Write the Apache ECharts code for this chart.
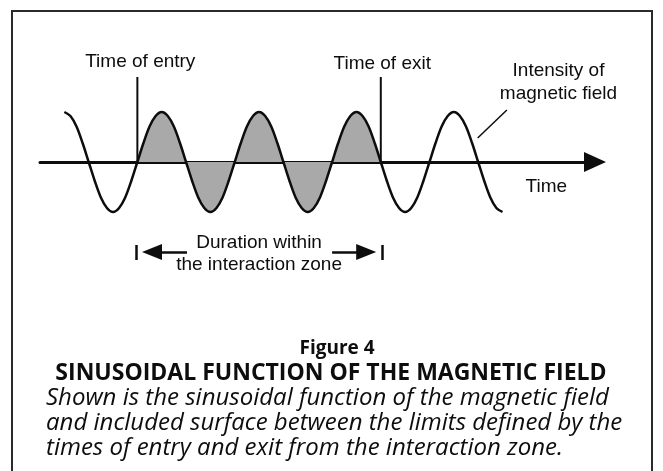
<!DOCTYPE html>
<html>
<head>
<meta charset="utf-8">
<title>Sinusoidal function of the magnetic field</title>
<script src="https://cdn.jsdelivr.net/npm/echarts@6/dist/echarts.min.js"></script>
<style>
  html, body { margin: 0; padding: 0; background: #ffffff; }
  #chart { width: 663px; height: 471px; }
</style>
</head>
<body>
<div id="chart"></div>
<script>
// Field intensity sampled along time (one unit = half a period)
const sampleTimes = [
  -0.5, -0.375, -0.25, -0.125, 0, 0.125, 0.25, 0.375,
  0.5, 0.625, 0.75, 0.875, 1, 1.125, 1.25, 1.375,
  1.5, 1.625, 1.75, 1.875, 2, 2.125, 2.25, 2.375,
  2.5, 2.625, 2.75, 2.875, 3, 3.125, 3.25, 3.375,
  3.5, 3.625, 3.75, 3.875, 4, 4.125, 4.25, 4.375,
  4.5, 4.625, 4.75, 4.875, 5, 5.125, 5.25, 5.375,
  5.5, 5.625, 5.75, 5.875, 6, 6.125, 6.25, 6.375,
  6.5, 6.625, 6.75, 6.875, 7, 7.125, 7.25, 7.375,
  7.5, 7.625, 7.75, 7.875, 8, 8.125, 8.25, 8.375,
  8.5
];
const fieldValues = [
  1, 0.92, 0.71, 0.38, 0, -0.38, -0.71, -0.92,
  -1, -0.92, -0.71, -0.38, 0, 0.38, 0.71, 0.92,
  1, 0.92, 0.71, 0.38, 0, -0.38, -0.71, -0.92,
  -1, -0.92, -0.71, -0.38, 0, 0.38, 0.71, 0.92,
  1, 0.92, 0.71, 0.38, 0, -0.38, -0.71, -0.92,
  -1, -0.92, -0.71, -0.38, 0, 0.38, 0.71, 0.92,
  1, 0.92, 0.71, 0.38, 0, -0.38, -0.71, -0.92,
  -1, -0.92, -0.71, -0.38, 0, 0.38, 0.71, 0.92,
  1, 0.92, 0.71, 0.38, 0, -0.38, -0.71, -0.92,
  -1
];

// Limits of the interaction zone
const entryTime = 1;
const exitTime = 6;

// Annotation labels
const entryLabel = 'Time of entry';
const exitLabel = 'Time of exit';
const timeLabel = 'Time';
const fieldLabel = 'Intensity of\nmagnetic field';
const durationLabel = 'Duration within\nthe interaction zone';

// Caption
const figureNumber = 'Figure 4';
const figureTitle = 'SINUSOIDAL FUNCTION OF THE MAGNETIC FIELD';
const figureText = [
  'Shown is the sinusoidal function of the magnetic field',
  'and included surface between the limits defined by the',
  'times of entry and exit from the interaction zone.'
];

const curve = sampleTimes.map((t, i) => [t, fieldValues[i]]);
const zone = curve.filter(p => p[0] >= entryTime && p[0] <= exitTime);

const ink = '#0d0d0d';
const labelFont = { fontFamily: 'Liberation Sans', fontSize: 19, color: ink, opacity: 1 };
const markerTop = 1.7;
const durationY = -1.8;

const chart = echarts.init(document.getElementById('chart'), null, { renderer: 'canvas' });

function textPoint(x, y, text, extra) {
  return {
    value: [x, y],
    label: Object.assign({ show: true, position: 'inside', formatter: text }, labelFont, extra || {})
  };
}

const option = {
  backgroundColor: '#ffffff',
  animation: false,
  grid: { left: 40, right: 68, top: 42, bottom: 209, containLabel: false },
  xAxis: {
    type: 'value',
    min: -1,
    max: 10.4,
    axisLine: {
      show: true,
      onZero: true,
      symbol: ['none', 'triangle'],
      symbolSize: [20, 22],
      lineStyle: { color: ink, width: 3 }
    },
    axisTick: { show: false },
    axisLabel: { show: false },
    splitLine: { show: false }
  },
  yAxis: {
    type: 'value',
    min: -2,
    max: 2.4,
    axisLine: { show: false },
    axisTick: { show: false },
    axisLabel: { show: false },
    splitLine: { show: false }
  },
  series: [
    {
      // surface included between entry and exit
      type: 'line',
      data: zone,
      smooth: 0.3,
      showSymbol: false,
      lineStyle: { width: 0 },
      areaStyle: { color: '#a9a9a9', opacity: 1, origin: 0 },
      z: 1
    },
    {
      // magnetic field intensity
      type: 'line',
      data: curve,
      smooth: 0.3,
      showSymbol: false,
      lineStyle: { color: ink, width: 2.5 },
      z: 3
    },
    {
      type: 'line',
      data: [[entryTime, 0], [entryTime, markerTop]],
      symbol: 'none',
      lineStyle: { color: ink, width: 2 },
      z: 4
    },
    {
      type: 'line',
      data: [[exitTime, 0], [exitTime, markerTop]],
      symbol: 'none',
      lineStyle: { color: ink, width: 2 },
      z: 4
    },
    {
      // leader line to the curve
      type: 'line',
      data: [[7.99, 0.48], [8.59, 1.04]],
      symbol: 'none',
      lineStyle: { color: ink, width: 1.5 },
      z: 4
    },
    {
      type: 'scatter',
      symbolSize: 0,
      silent: true,
      itemStyle: { opacity: 1 },
      data: [
        textPoint(entryTime + 0.06, 2.0, entryLabel),
        textPoint(exitTime + 0.03, 1.96, exitLabel),
        textPoint(9.4, -0.5, timeLabel),
        textPoint(9.65, 1.6, fieldLabel, { lineHeight: 23 }),
        textPoint((entryTime + exitTime) / 2, -1.84, durationLabel, { lineHeight: 22 })
      ],
      z: 5
    },
    {
      // duration arrows and limit bars
      type: 'line',
      data: [],
      markLine: {
        silent: true,
        symbol: ['none', 'none'],
        label: { show: false },
        lineStyle: { color: ink, width: 2.5, type: 'solid' },
        data: [
          [{ coord: [entryTime - 0.03, -1.66] }, { coord: [entryTime - 0.03, -1.96] }],
          [{ coord: [exitTime + 0.03, -1.66] }, { coord: [exitTime + 0.03, -1.96] }],
          [{ coord: [entryTime + 0.3, durationY], symbol: 'triangle', symbolSize: [16, 20] }, { coord: [2.02, durationY], symbol: 'none' }],
          [{ coord: [5.0, durationY], symbol: 'none' }, { coord: [exitTime - 0.3, durationY], symbol: 'triangle', symbolSize: [16, 20] }]
        ]
      }
    }
  ],
  graphic: [
    {
      type: 'polyline',
      shape: { points: [[12, 475], [12, 11], [652, 11], [652, 475]] },
      style: { stroke: '#2a2a2a', lineWidth: 2, fill: null }
    },
    {
      type: 'text', x: 337, y: 349,
      style: { text: figureNumber, textAlign: 'center', textVerticalAlign: 'middle', font: 'bold 19px "Open Sans"', fill: ink }
    },
    {
      type: 'text', x: 331, y: 373,
      style: { text: figureTitle, textAlign: 'center', textVerticalAlign: 'middle', font: 'bold 23px "Open Sans"', fill: ink }
    },
    {
      type: 'text', x: 46, y: 398,
      style: { text: figureText[0], textAlign: 'left', textVerticalAlign: 'middle', font: 'italic 24px "Open Sans"', fill: ink }
    },
    {
      type: 'text', x: 46, y: 423,
      style: { text: figureText[1], textAlign: 'left', textVerticalAlign: 'middle', font: 'italic 24px "Open Sans"', fill: ink }
    },
    {
      type: 'text', x: 46, y: 448,
      style: { text: figureText[2], textAlign: 'left', textVerticalAlign: 'middle', font: 'italic 24px "Open Sans"', fill: ink }
    }
  ]
};

chart.setOption(option);
</script>
</body>
</html>
